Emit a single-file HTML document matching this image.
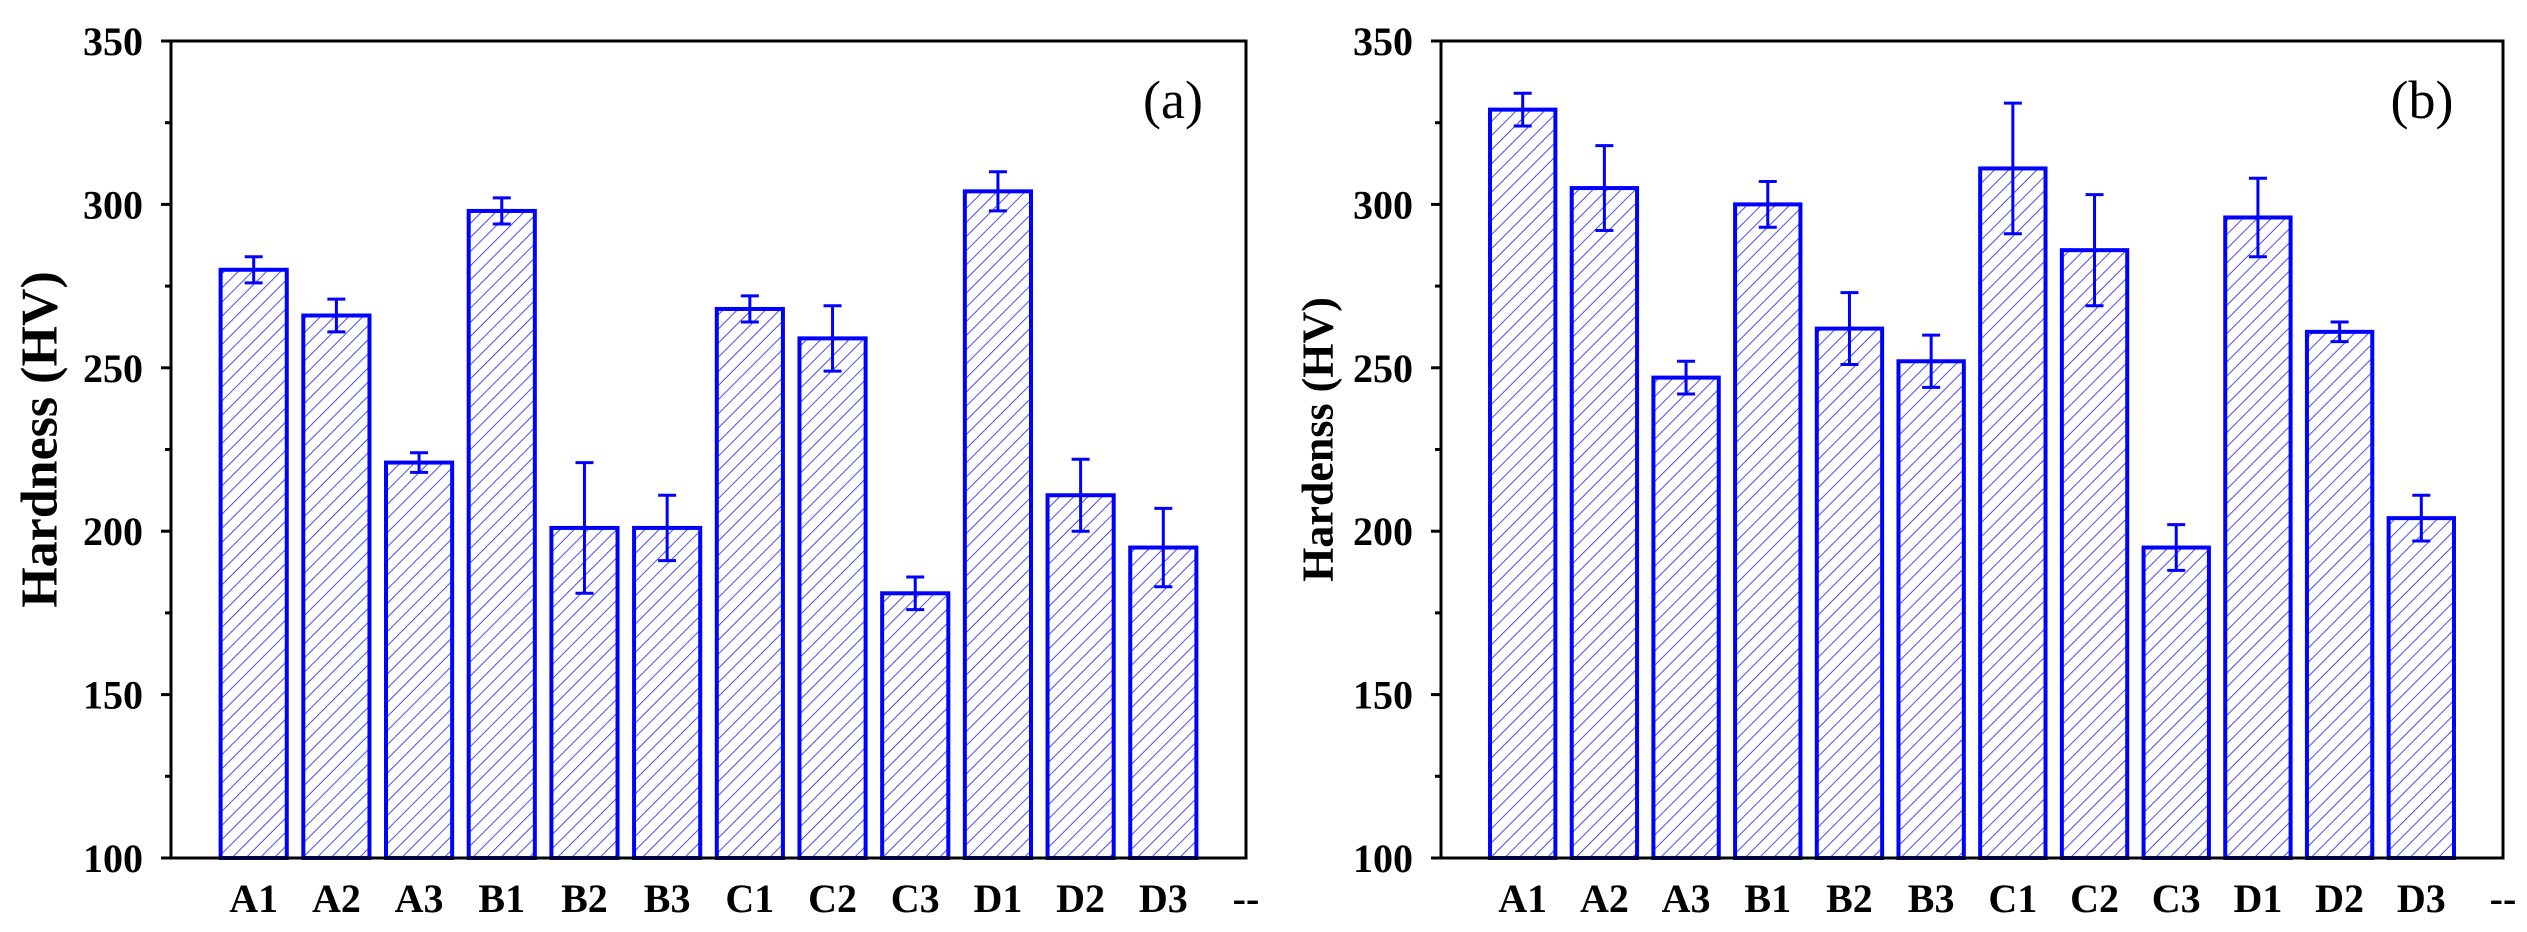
<!DOCTYPE html>
<html><head><meta charset="utf-8">
<style>
html,body{margin:0;padding:0;background:#fff;}
svg{display:block;font-family:"Liberation Serif",serif;}
</style></head>
<body>
<svg id="chart" width="2527" height="932" viewBox="0 0 2527 932" xmlns="http://www.w3.org/2000/svg">
<defs>
<pattern id="hatch" patternUnits="userSpaceOnUse" width="10" height="10" patternTransform="rotate(45)">
<line x1="0" y1="0" x2="0" y2="10" stroke="#4a4aff" stroke-width="2"/>
</pattern>
</defs>
</svg>
<script>
const categories = ["A1","A2","A3","B1","B2","B3","C1","C2","C3","D1","D2","D3"];
const valuesA = [280,266,221,298,201,201,268,259,181,304,211,195];
const errorsA = [4,5,3,4,20,10,4,10,5,6,11,12];
const valuesB = [329,305,247,300,262,252,311,286,195,296,261,204];
const errorsB = [5,13,5,7,11,8,20,17,7,12,3,7];
const yTicks = [100,150,200,250,300,350];

const svg = document.getElementById('chart');
const NS = 'http://www.w3.org/2000/svg';
function mk(tag, attrs, parent){
  const e = document.createElementNS(NS, tag);
  for (const k in attrs) e.setAttribute(k, attrs[k]);
  (parent||svg).appendChild(e);
  return e;
}
function panel(id, left, right, vals, errs, ytitle, ytitleSize, ytitleX, tag, tagX){
  const top = 41, bottom = 858, ymin = 100, ymax = 350, xmax = 13;
  const y = v => bottom - (v - ymin) / (ymax - ymin) * (bottom - top);
  const x = i => left + i / xmax * (right - left);
  const pitch = (right - left) / xmax, bw = pitch * 0.8;
  const g = mk('g', {});
  
  
  vals.forEach((v, i) => {
    const cx = x(i + 1);
    const r = mk('rect', {x: cx - bw/2, y: y(v), width: bw, height: bottom - y(v), fill: 'url(#hatch)', stroke: '#0000ff', 'stroke-width': 4}, g);
    
    
    const e = errs[i];
    const eb = mk('path', {d: `M${cx},${y(v+e)}V${y(v-e)}M${cx-9},${y(v+e)}H${cx+9}M${cx-9},${y(v-e)}H${cx+9}`, stroke: '#0000ff', 'stroke-width': 3, fill: 'none'}, g);
    
    
    const t = mk('text', {x: cx, y: 912, 'text-anchor': 'middle', 'font-size': 40, 'font-weight': 'bold'}, g);
    t.textContent = categories[i];
    
    
  });
  const dash = mk('text', {x: x(13), y: 912, 'text-anchor': 'middle', 'font-size': 40, 'font-weight': 'bold'}, g);
  dash.textContent = '--';
  
  
  const frame = mk('rect', {x: left, y: top, width: right - left, height: bottom - top, fill: 'none', stroke: '#000', 'stroke-width': 3}, g);
  
  
  yTicks.forEach(v => {
    const tk = mk('line', {x1: left - 10, x2: left, y1: y(v), y2: y(v), stroke: '#000', 'stroke-width': 3}, g);
    
    
    const lb = mk('text', {x: left - 28, y: y(v) + 14, 'text-anchor': 'end', 'font-size': 40, 'font-weight': 'bold'}, g);
    lb.textContent = v;
    
    
    if (v < ymax) {
      const mt = mk('line', {x1: left - 6, x2: left, y1: y(v + 25), y2: y(v + 25), stroke: '#000', 'stroke-width': 3}, g);
      
      
    }
  });
  const yt = mk('text', {x: ytitleX, y: (top + bottom) / 2 - 10, 'text-anchor': 'middle', 'font-size': ytitleSize, 'font-weight': 'bold', transform: `rotate(-90 ${ytitleX} ${(top+bottom)/2 - 10})`, 'dominant-baseline': 'central'}, g);
  yt.textContent = ytitle;
  
  
  const pt = mk('text', {x: tagX, y: 118, 'text-anchor': 'middle', 'font-size': 54}, g);
  pt.textContent = tag;
  
  
}
panel('a', 171, 1246, valuesA, errorsA, 'Hardness (HV)', 52, 40, '(a)', 1173);
panel('b', 1441, 2503, valuesB, errorsB, 'Hardenss (HV)', 44, 1318, '(b)', 2422);
</script>
</body></html>
